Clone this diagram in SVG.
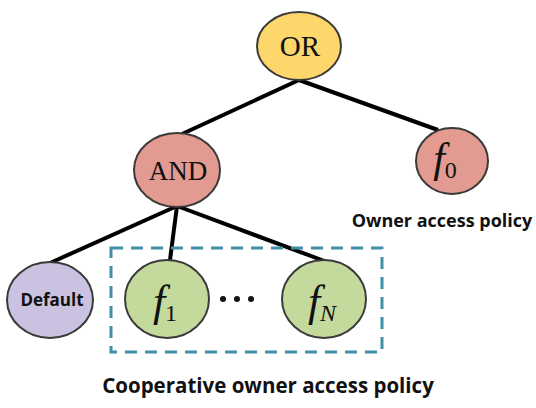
<svg xmlns="http://www.w3.org/2000/svg" width="536" height="408" viewBox="0 0 536 408">
<style>
.node{stroke:#3a3a3a;stroke-width:2}
.edge{stroke:#000;stroke-width:4;fill:none}
.ser{font-family:"Liberation Serif","DejaVu Serif",serif;fill:#111}
.it{font-style:italic}
.sans{font-family:"Open Sans","Liberation Sans",sans-serif;font-weight:bold;fill:#111}
</style>
<rect width="536" height="408" fill="#fff"/>
<g id="connectors">
<line class="edge" x1="299" y1="80" x2="182" y2="134"/>
<line class="edge" x1="299" y1="80" x2="438" y2="130"/>
<line class="edge" x1="177" y1="206" x2="50" y2="263"/>
<line class="edge" x1="177" y1="206" x2="170" y2="260"/>
<line class="edge" x1="177" y1="206" x2="327" y2="262"/>
</g>
<g id="group-box">
<rect x="111" y="248" width="271" height="104" fill="none" stroke="#3f90a8" stroke-width="3" stroke-dasharray="12 8"/>
</g>
<g id="node-or">
<ellipse class="node" cx="299" cy="46" rx="42" ry="34" fill="#fdd76b"/>
<text class="ser" x="300" y="56" font-size="29" text-anchor="middle">OR</text>
</g>
<g id="node-and">
<ellipse class="node" cx="177" cy="170" rx="43" ry="37" fill="#e39a90"/>
<text class="ser" x="178" y="180" font-size="27" text-anchor="middle">AND</text>
</g>
<g id="node-f0">
<ellipse class="node" cx="452" cy="161" rx="36" ry="33" fill="#e39a90"/>
<text class="ser" x="445" y="172" font-size="42" text-anchor="middle"><tspan class="it">f</tspan><tspan font-size="24" dy="6">0</tspan></text>
</g>
<g id="label-owner">
<text class="sans" x="442" y="227" font-size="18" text-anchor="middle">Owner access policy</text>
</g>
<g id="node-default">
<ellipse class="node" cx="50" cy="300" rx="43" ry="38" fill="#cbc1e0"/>
<text class="sans" x="52" y="306" font-size="17" text-anchor="middle">Default</text>
</g>
<g id="node-f1">
<ellipse class="node" cx="167" cy="299" rx="42" ry="39" fill="#c4da9c"/>
<text class="ser" x="165" y="316" font-size="44" text-anchor="middle"><tspan class="it">f</tspan><tspan font-size="24" dy="5">1</tspan></text>
</g>
<g id="dots">
<circle cx="223" cy="299" r="3" fill="#111"/>
<circle cx="237" cy="299" r="3" fill="#111"/>
<circle cx="251" cy="299" r="3" fill="#111"/>
</g>
<g id="node-fn">
<ellipse class="node" cx="324" cy="299" rx="42" ry="39" fill="#c4da9c"/>
<text class="ser" x="322" y="316" font-size="44" text-anchor="middle"><tspan class="it">f</tspan><tspan class="it" font-size="24" dy="5">N</tspan></text>
</g>
<g id="label-coop">
<text class="sans" x="268" y="393" font-size="20.5" text-anchor="middle">Cooperative owner access policy</text>
</g>
</svg>
